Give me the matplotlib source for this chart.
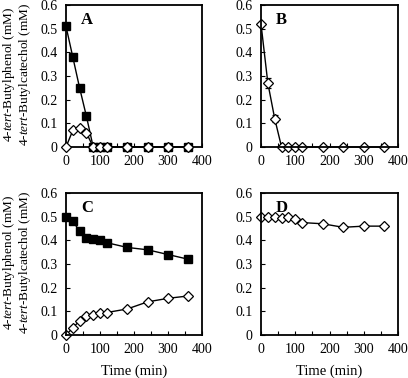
import numpy as np
import matplotlib
matplotlib.use('Agg')
from matplotlib import pyplot as plt

plt.rcParams['font.family'] = 'Liberation Serif'
plt.rcParams['mathtext.fontset'] = 'custom'
plt.rcParams['mathtext.rm'] = 'Liberation Serif'
plt.rcParams['mathtext.it'] = 'Liberation Serif:italic'
plt.rcParams['font.size'] = 10

# Datos
t = [0, 20, 40, 60, 80, 100, 120, 180, 240, 300, 360]

a_phenol = [0.51, 0.38, 0.25, 0.13, 0, 0, 0, 0, 0, 0, 0]
a_catechol = [0, 0.07, 0.08, 0.06, 0, 0, 0, 0, 0, 0, 0]

b_catechol = [0.52, 0.27, 0.12, 0, 0, 0, 0, 0, 0, 0, 0]
b_err = [0, 0.02, 0.015, 0, 0, 0, 0, 0, 0, 0, 0]

c_phenol = [0.50, 0.48, 0.44, 0.41, 0.405, 0.40, 0.39, 0.37, 0.36, 0.34, 0.32]
c_catechol = [0, 0.03, 0.06, 0.08, 0.085, 0.095, 0.095, 0.11, 0.14, 0.155, 0.165]

d_catechol = [0.50, 0.50, 0.50, 0.495, 0.50, 0.49, 0.475, 0.47, 0.455, 0.46, 0.46]

W, H = 408, 378
fig = plt.figure(figsize=(W/100, H/100), dpi=100)

def mk_ax(l, r, top, bot):
    return fig.add_axes([l/W, 1-bot/H, (r-l)/W, (bot-top)/H])

def style(ax, letter):
    ax.set_xlim(0, 400)
    ax.set_ylim(0, 0.6)
    ax.set_xticks([0, 100, 200, 300, 400])
    ax.set_xticks([50, 150, 250, 350], minor=True)
    ax.set_yticks([0, 0.1, 0.2, 0.3, 0.4, 0.5, 0.6])
    ax.set_yticklabels(['0', '0.1', '0.2', '0.3', '0.4', '0.5', '0.6'])
    ax.tick_params(which='both', direction='in', length=3, width=0.8, pad=6)
    for s in ax.spines.values():
        s.set_linewidth(1.3)
    ax.text(0.11, 0.95, letter, transform=ax.transAxes, fontsize=12,
            fontweight='bold', va='top', ha='left')

sq = dict(color='black', marker='s', markersize=6.3, lw=1, mfc='black', mec='black', clip_on=False)
dm = dict(color='black', marker='D', markersize=4.8, lw=1, mfc='white', mec='black', mew=0.9, clip_on=False)

ax = mk_ax(66, 202, 5, 147)
ax.plot(t, a_phenol, zorder=3, **sq)
ax.plot(t, a_catechol, zorder=4, **dm)
style(ax, 'A')

ax = mk_ax(261, 398, 5, 147)
ax.errorbar(t, b_catechol, yerr=b_err, capsize=2, elinewidth=0.8, **dm)
style(ax, 'B')

ax = mk_ax(66, 202, 193, 335)
ax.plot(t, c_phenol, **sq)
ax.plot(t, c_catechol, **dm)
style(ax, 'C')
ax.set_xlabel('Time (min)', fontsize=10.5, labelpad=6)

ax = mk_ax(261, 398, 193, 335)
ax.plot(t, d_catechol, **dm)
style(ax, 'D')
ax.set_xlabel('Time (min)', fontsize=10.5, labelpad=6)

for yc in [74, 262]:
    fig.text(17/W, 1-yc/H,
             '4-$\\mathit{tert}$-Butylphenol (mM)\n4-$\\mathit{tert}$-Butylcatechol (mM)',
             rotation=90, ha='center', va='center', multialignment='center',
             fontsize=9.5, linespacing=1.05)

plt.savefig('out.png', dpi=100)
